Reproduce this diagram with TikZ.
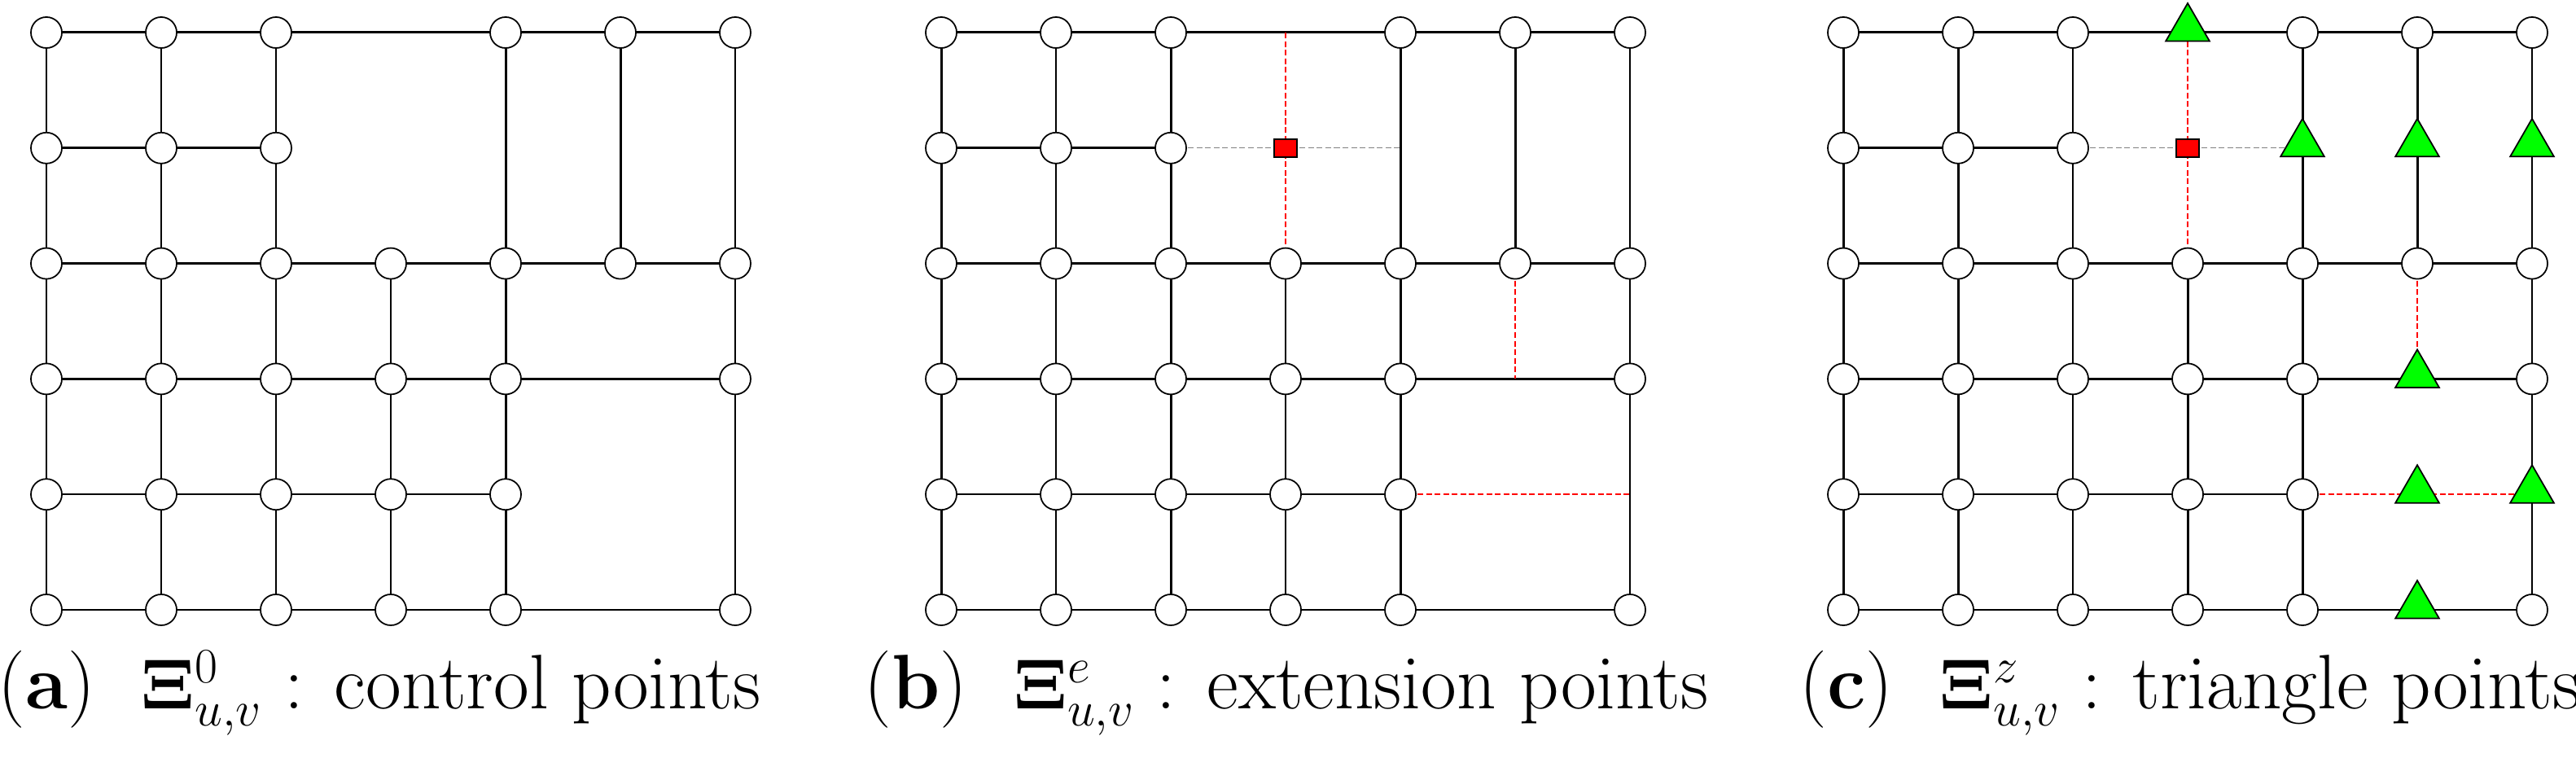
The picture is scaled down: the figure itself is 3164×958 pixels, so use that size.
\documentclass[tikz,border=0pt]{standalone}
\usetikzlibrary{shapes.geometric}
\begin{document}
\begin{tikzpicture}[x=0.01cm,y=-0.01cm,
  pt/.style={circle,draw,fill=white,minimum size=0.38cm,inner sep=0pt,line width=0.5pt},
  tri/.style={regular polygon,regular polygon sides=3,draw,fill=green,minimum size=0.62cm,inner sep=0pt,line width=0.5pt,yshift=0.05cm},
  sq/.style={rectangle,draw,fill=red,minimum width=0.28cm,minimum height=0.22cm,inner sep=0pt,line width=0.5pt},
  thk/.style={line width=0.85pt},
  thn/.style={line width=0.4pt},
  rdash/.style={draw=red,dash pattern=on 2pt off 1pt,line width=0.5pt},
  gdash/.style={draw=gray,dash pattern=on 2pt off 1pt,line width=0.3pt},
  captxt/.style={font=\fontsize{27}{32}\selectfont,anchor=base}]
\useasboundingbox (0,0) rectangle (3164,958);
\foreach \p/\xo in {a/57,b/1156,c/2264}{
  \foreach \c in {0,...,6}{
    \foreach \r in {0,...,5}{
      \coordinate (\p\c\r) at ({\xo+141*\c},{40+141.8*\r});
}}}
\foreach \p in {a,b}{
  \draw[thk] (\p00)--(\p10)--(\p20)--(\p40)--(\p50)--(\p60);
  \draw[thk] (\p01)--(\p11)--(\p21);
  \draw[thk] (\p02)--(\p62);
  \draw[thk] (\p03)--(\p43)--(\p63);
  \draw[thn] (\p04)--(\p44);
  \draw[thk] (\p05)--(\p45)--(\p65);
  \draw[thk] (\p00)--(\p05);
  \draw[thk] (\p20)--(\p25);
  \draw[thk] (\p40)--(\p45);
  \draw[thk] (\p50)--(\p52);
  \draw[thn] (\p60)--(\p65);
}
\draw[thk] (a10)--(a15);
\draw[thn] (a32)--(a35);
\draw[thn] (b10)--(b15);
\draw[thn] (b32)--(b35);
\draw[rdash] (b30)--(b32);
\draw[gdash] (b21)--(b41);
\draw[rdash] (b52)--(b53);
\draw[rdash] (b44)--(b64);
\draw[thk] (c00)--(c60);
\draw[thk] (c01)--(c21);
\draw[gdash] (c21)--(c41);
\draw[thk] (c02)--(c62);
\draw[thk] (c03)--(c63);
\draw[thn] (c04)--(c44);
\draw[rdash] (c44)--(c64);
\draw[thk] (c05)--(c65);
\draw[thk] (c00)--(c05);
\draw[thk] (c10)--(c15);
\draw[thn] (c20)--(c25);
\draw[rdash] (c30)--(c32);
\draw[thk] (c32)--(c35);
\draw[thk] (c40)--(c45);
\draw[thk] (c50)--(c52);
\draw[rdash] (c52)--(c53);
\draw[thn] (c60)--(c65);
\foreach \p in {a,b,c}{
  \foreach \c/\r in {0/0,1/0,2/0,4/0,5/0,6/0,0/1,1/1,2/1,
     0/2,1/2,2/2,3/2,4/2,5/2,6/2,0/3,1/3,2/3,3/3,4/3,6/3,
     0/4,1/4,2/4,3/4,4/4,0/5,1/5,2/5,3/5,4/5,6/5}{
    \node[pt] (n\p\c\r) at (\p\c\r) {};
}}
\node[sq] (nb31) at (b31) {};
\node[sq] (nc31) at (c31) {};
\foreach \c/\r in {3/0,4/1,5/1,6/1,5/3,5/4,6/4,5/5}{
  \node[tri] (tc\c\r) at (c\c\r) {};
}
\node[captxt] (capa) at (466,870) {(\textbf{a})\ \ $\mathbf{\Xi}^{0}_{u,v}$\;: control points};
\node[captxt] (capb) at (1580,870) {(\textbf{b})\ \ $\mathbf{\Xi}^{e}_{u,v}$\;: extension points};
\node[captxt] (capc) at (2690,870) {(\textbf{c})\ \ $\mathbf{\Xi}^{z}_{u,v}$\;: triangle points};
\end{tikzpicture}
\end{document}
